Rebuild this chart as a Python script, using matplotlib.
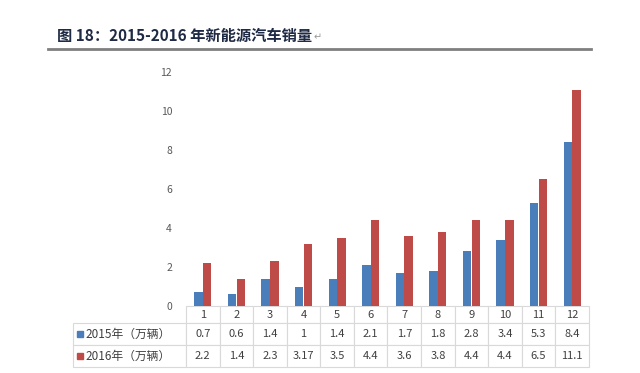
import numpy as np
import matplotlib
matplotlib.use("Agg")
import matplotlib.pyplot as plt
from matplotlib.patches import Rectangle
from matplotlib.table import Table

plt.rcParams['font.family'] = ['Noto Sans CJK SC', 'DejaVu Sans']

# 数据
months = ['1', '2', '3', '4', '5', '6', '7', '8', '9', '10', '11', '12']
sales_2015 = [0.7, 0.6, 1.4, 1, 1.4, 2.1, 1.7, 1.8, 2.8, 3.4, 5.3, 8.4]
sales_2016 = [2.2, 1.4, 2.3, 3.17, 3.5, 4.4, 3.6, 3.8, 4.4, 4.4, 6.5, 11.1]
series_names = ['2015年（万辆）', '2016年（万辆）']
colors = ['#4a7ebb', '#be4b48']
title = '图 18：2015-2016 年新能源汽车销量'

W, H = 640, 373
fig = plt.figure(figsize=(W / 100, H / 100), dpi=100)

# 绘图区 (像素)
x0, x1, y0, y1 = 186, 589, 306, 72
ax = fig.add_axes([x0 / W, 1 - y0 / H, (x1 - x0) / W, (y0 - y1) / H])
ax_w, ax_h = x1 - x0, y0 - y1

x = np.arange(len(months))
bw = 0.25
ax.bar(x - 0.13, sales_2015, bw, color=colors[0])
ax.bar(x + 0.13, sales_2016, bw, color=colors[1])
ax.set_xlim(-0.5, len(months) - 0.5)
ax.set_ylim(0, 12)
ax.set_yticks(range(0, 13, 2))
ax.tick_params(axis='y', length=0, labelsize=7.5, labelcolor='#595959', pad=10)
ax.set_xticks([])
for s in ax.spines.values():
    s.set_visible(False)

# 数据表 (第 0 列为行标题)
tbl_left, tbl_bottom = 73, 367
head_h, row_h = 17, 22
lab_w, col_w = x0 - tbl_left, ax_w / len(months)
tbl = Table(ax, bbox=[(tbl_left - x0) / ax_w, -(tbl_bottom - y0) / ax_h,
                      (x1 - tbl_left) / ax_w, (tbl_bottom - y0) / ax_h])
for j, m in enumerate(months):
    tbl.add_cell(0, j + 1, col_w, head_h, text=m, loc='center')
for i, (name, vals) in enumerate(zip(series_names, [sales_2015, sales_2016])):
    c = tbl.add_cell(i + 1, 0, lab_w, row_h, text=name, loc='left')
    c.PAD = 0.11
    for j, v in enumerate(vals):
        tbl.add_cell(i + 1, j + 1, col_w, row_h, text=f"{v:g}", loc='center')
tbl.auto_set_font_size(False)
tbl.set_fontsize(8)
for (r, c), cell in tbl.get_celld().items():
    cell.set_edgecolor('#d9d9d9')
    cell.set_linewidth(0.8)
    cell.get_text().set_color('#404040')
    if c == 0:
        cell.get_text().set_fontsize(8.5)
ax.add_table(tbl)

# 图例方块
for i, col in enumerate(colors):
    cy = y0 + head_h + row_h * (i + 0.5)
    ax.add_patch(Rectangle(((77 - x0) / ax_w, (y0 - cy - 3) / ax_h), 6 / ax_w, 6 / ax_h,
                           transform=ax.transAxes, color=col, clip_on=False))

# 标题
t = fig.text(57 / W, 1 - 36 / H, title, fontsize=11, fontweight='bold',
             color='#1f2a44', va='center', ha='left')
fig.add_artist(plt.Line2D([48 / W, 591 / W], [1 - 49 / H, 1 - 49 / H],
                          color='#7f7f7f', lw=2))
fig.canvas.draw()
bb = t.get_window_extent()
fig.text((bb.x1 + 1) / W, 1 - 37 / H, '↵', fontsize=7, color='#999999',
         va='center', ha='left', family=['DejaVu Sans'])

fig.savefig('out.png', dpi=100)
